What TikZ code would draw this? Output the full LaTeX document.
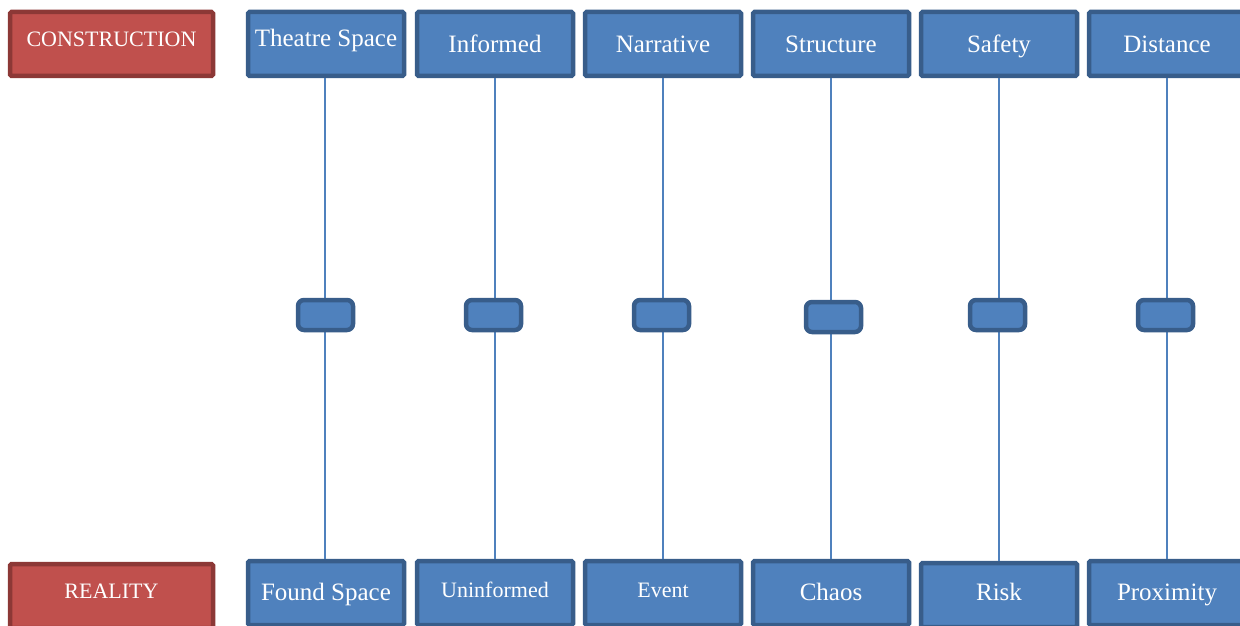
\documentclass[tikz,border=0pt]{standalone}
\usepackage{fontspec}
\setmainfont{Liberation Serif}
\definecolor{boxfill}{HTML}{4F81BD}
\definecolor{boxedge}{HTML}{385D8A}
\definecolor{redfill}{HTML}{C0504D}
\definecolor{rededge}{HTML}{8C3836}
\tikzset{
  pole/.style={draw=boxfill, line width=1.8pt},
  bluebox/.style={draw=boxedge, fill=boxfill, line width=4.5pt, rounded corners=1.5pt,
    minimum width=156pt, minimum height=64pt, inner sep=0pt},
  redbox/.style={draw=rededge, fill=redfill, line width=4.5pt, rounded corners=1.5pt,
    minimum width=203pt, minimum height=64pt, inner sep=0pt},
  knob/.style={draw=boxedge, fill=boxfill, line width=4.5pt, rounded corners=6pt,
    minimum width=55pt, minimum height=30pt, inner sep=0pt},
  caption/.style={text=white, anchor=base, inner sep=0pt,
    font=\fontsize{25}{28}\selectfont},
  smallcaption/.style={caption, font=\fontsize{22}{26}\selectfont},
}
\begin{document}
\begin{tikzpicture}[x=1pt, y=-1pt]
\useasboundingbox (0,0) rectangle (1240,626);
\fill[white] (0,0) rectangle (1240,626);

% row labels
\node[redbox] (con) at (111.5,44) {};
\node[caption, font=\fontsize{22}{26}\selectfont] at (111.5,46.5) {CONSTRUCTION};
\node[redbox] (rea) at (111.5,596) {};
\node[caption, font=\fontsize{22}{26}\selectfont] at (111.5,598) {REALITY};

% top row
\node[bluebox] (t1) at (326,44) {};
\node[bluebox] (t2) at (495,44) {};
\node[bluebox] (t3) at (663,44) {};
\node[bluebox] (t4) at (831,44) {};
\node[bluebox] (t5) at (999,44) {};
\node[bluebox] (t6) at (1167,44) {};

% bottom row
\node[bluebox] (b1) at (326,593) {};
\node[bluebox] (b2) at (495,593) {};
\node[bluebox] (b3) at (663,593) {};
\node[bluebox] (b4) at (831,593) {};
\node[bluebox] (b5) at (999,595) {};
\node[bluebox] (b6) at (1167,593) {};

% poles
\draw[pole] (t1.south -| 325,0) -- (b1.north -| 325,0);
\draw[pole] (t2.south) -- (b2.north);
\draw[pole] (t3.south) -- (b3.north);
\draw[pole] (t4.south) -- (b4.north);
\draw[pole] (t5.south) -- (b5.north);
\draw[pole] (t6.south) -- (b6.north);

% sliders
\node[knob] (k1) at (325.5,315) {};
\node[knob] (k2) at (493.5,315) {};
\node[knob] (k3) at (661.5,315) {};
\node[knob] (k4) at (833.5,317) {};
\node[knob] (k5) at (997.5,315) {};
\node[knob] (k6) at (1165.5,315) {};

% labels
\node[caption] at (326,47) {Theatre Space};
\node[caption] at (495,53) {Informed};
\node[caption] at (663,53) {Narrative};
\node[caption] at (831,53) {Structure};
\node[caption] at (999,53) {Safety};
\node[caption] at (1167,53) {Distance};
\node[caption] at (326,600) {Found Space};
\node[smallcaption] at (495,597) {Uninformed};
\node[smallcaption] at (663,597) {Event};
\node[caption] at (831,600) {Chaos};
\node[caption] at (999,600) {Risk};
\node[caption] at (1167,600) {Proximity};
\end{tikzpicture}
\end{document}
